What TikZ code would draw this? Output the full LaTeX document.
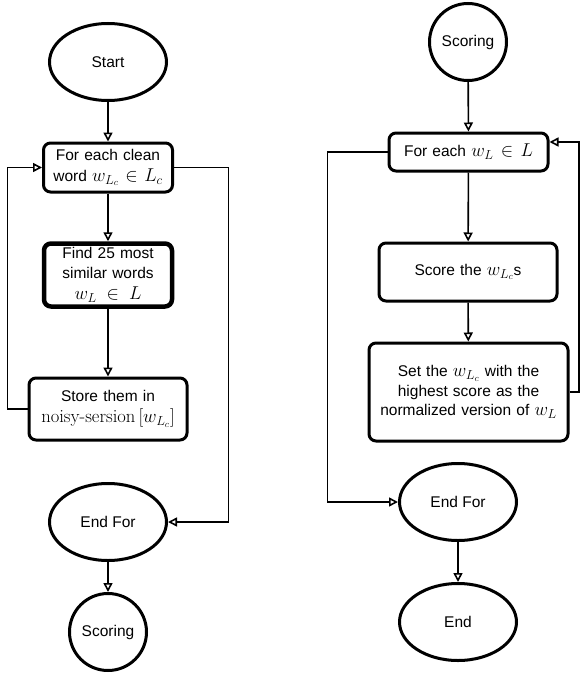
\RequirePackage{fix-cm}
\documentclass[tikz,border=0pt]{standalone}
\usepackage{fontspec}
\setsansfont{Liberation Sans}
\usetikzlibrary{shapes.geometric,arrows.meta}
\newcommand\mth[1]{{\fontsize{18.6}{19.5}\selectfont$#1$}}
\tikzset{
  base/.style={draw=black, line width=3pt, inner sep=0pt, align=center,
    font=\sffamily\fontsize{15.5}{19.5}\selectfont},
  oval/.style={base, ellipse, minimum width=117pt, minimum height=77pt},
  disc/.style={base, circle, minimum size=77pt},
  procbox/.style={base, rectangle, rounded corners=7pt},
  conn/.style={line width=1.6pt, -{Triangle[open,length=9pt,width=9pt]}}
}
\begin{document}
\begin{tikzpicture}[x=1pt,y=-1pt]
\useasboundingbox (0,0) rectangle (587,674);
% left column
\node[oval] (start) at (108,62) {Start};
\node[procbox, minimum width=129pt, minimum height=49pt, text width=125pt] (fe1) at (108,167.5)
  {For each clean\\[1.5pt]word \mth{w_{L_c}\in L_c}};
\node[procbox, line width=4.5pt, minimum width=128pt, minimum height=63pt, text width=124pt] (find) at (108,275)
  {Find 25 most\\similar words\\[1.5pt]\mth{w_L\in L}};
\node[procbox, minimum width=158pt, minimum height=62pt, text width=154pt] (store) at (108,409)
  {Store them in\\[1.5pt]\mth{\textrm{noisy-sersion}\left[w_{L_c}\right]}};
\node[oval] (endfor1) at (108,522) {End For};
\node[disc] (scoring1) at (108,632) {Scoring};
\draw[conn] (start) -- (fe1);
\draw[conn] (fe1) -- (find);
\draw[conn] (find) -- (store);
\draw[conn] (store.west) -- ++(-20,0) |- (fe1.west);
\draw[conn] (fe1.east) -- ++(54.5,0) |- (endfor1.east);
\draw[conn] (endfor1) -- (scoring1);
% right column
\node[disc] (scoring2) at (468,42) {Scoring};
\node[procbox, minimum width=159pt, minimum height=38pt, text width=155pt] (fe2) at (468.5,152)
  {For each \mth{w_L\in L}};
\node[procbox, minimum width=178pt, minimum height=58pt, text width=174pt] (score) at (468,272)
  {Score the \mth{w_{L_c}}s};
\node[procbox, minimum width=199pt, minimum height=98pt, text width=195pt] (set) at (468.5,392)
  {Set the \mth{w_{L_c}} with the\\highest score as the\\normalized version of \mth{w_L}};
\node[oval] (endfor2) at (458,502) {End For};
\node[oval] (end) at (458,622) {End};
\draw[conn] (scoring2) -- (fe2);
\draw[conn] (fe2) -- (score);
\draw[conn] (score) -- (set);
\draw[conn] (set.east) -- ++(9.5,0) |- ([yshift=10pt]fe2.east);
\draw[conn] (fe2.west) -- ++(-60,0) |- (endfor2.west);
\draw[conn] (endfor2) -- (end);
\end{tikzpicture}
\end{document}
